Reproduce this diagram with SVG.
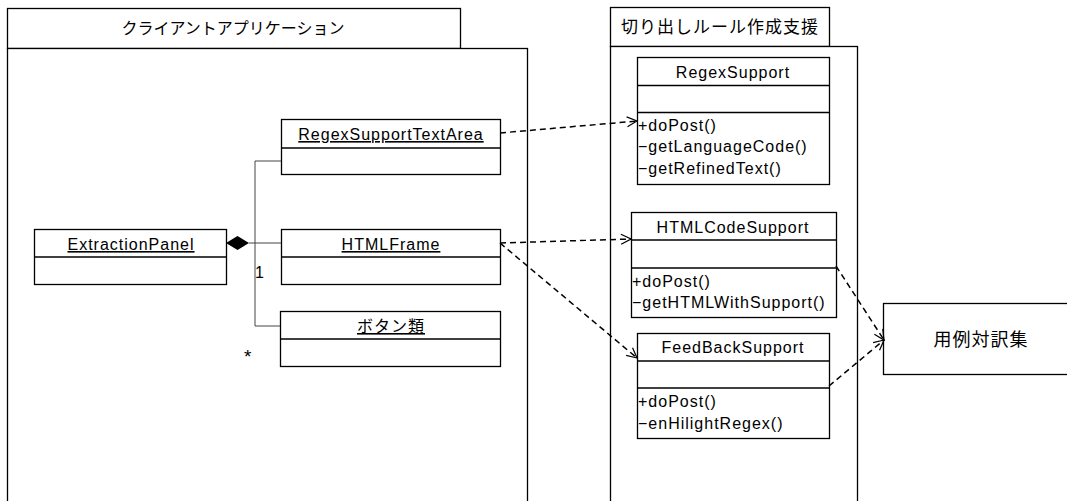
<svg xmlns="http://www.w3.org/2000/svg" width="1067" height="501" viewBox="0 0 1067 501">
<style>
.box{fill:#fff;stroke:#000;stroke-width:1.3}
.ln{stroke:#000;stroke-width:1.3}
.t{font-family:"Liberation Sans","Noto Sans CJK JP",sans-serif;font-size:16px;letter-spacing:1px;fill:#000}
.c{text-anchor:middle}
.u{text-decoration:underline}
.jp{font-family:"Noto Sans CJK JP","Liberation Sans",sans-serif;letter-spacing:0}
.dash{fill:none;stroke:#000;stroke-width:1.5;stroke-dasharray:6 4}
.conn{fill:none;stroke:#444;stroke-width:1}
</style>
<defs>
<marker id="open" viewBox="0 0 12 12" refX="11" refY="6" markerWidth="12" markerHeight="12" markerUnits="userSpaceOnUse" orient="auto">
<path d="M1,1 L11,6 L1,11" fill="none" stroke="#000" stroke-width="1.2"/>
</marker>
</defs>
<rect width="1067" height="501" fill="#fff"/>

<g id="pkg-client">
<rect class="box" x="7.5" y="8.5" width="453" height="40"/>
<rect class="box" x="7.5" y="48.5" width="520" height="470"/>
<text class="t jp c" x="233" y="34" style="font-size:16px">クライアントアプリケーション</text>
</g>

<g id="pkg-support">
<rect class="box" x="610.5" y="7.5" width="219" height="39"/>
<rect class="box" x="610.5" y="46.5" width="247" height="470"/>
<text class="t jp c" x="720" y="33" style="font-size:17px;letter-spacing:1px">切り出しルール作成支援</text>
</g>

<g id="ExtractionPanel">
<rect class="box" x="34.5" y="229.5" width="192" height="55"/>
<line class="ln" x1="34.5" y1="257" x2="226.5" y2="257"/>
<text class="t c u" x="131" y="250">ExtractionPanel</text>
</g>

<g id="RegexSupportTextArea">
<rect class="box" x="281.5" y="119.5" width="219" height="55"/>
<line class="ln" x1="281.5" y1="148" x2="500.5" y2="148"/>
<text class="t c u" x="391" y="140">RegexSupportTextArea</text>
</g>

<g id="HTMLFrame">
<rect class="box" x="281.5" y="229.5" width="219" height="55"/>
<line class="ln" x1="281.5" y1="257" x2="500.5" y2="257"/>
<text class="t c u" x="391" y="250">HTMLFrame</text>
</g>

<g id="Buttons">
<rect class="box" x="280.5" y="311.5" width="220" height="55"/>
<line class="ln" x1="280.5" y1="339" x2="500.5" y2="339"/>
<text class="t c u jp" x="391" y="332" style="letter-spacing:1px">ボタン類</text>
</g>

<g id="RegexSupport">
<rect class="box" x="637.5" y="57.5" width="192" height="127"/>
<line class="ln" x1="637.5" y1="85.5" x2="829.5" y2="85.5"/>
<line class="ln" x1="637.5" y1="112.5" x2="829.5" y2="112.5"/>
<text class="t c" x="733" y="78">RegexSupport</text>
<text class="t" x="638" y="131">+doPost()</text>
<text class="t" x="638" y="152">−getLanguageCode()</text>
<text class="t" x="638" y="174">−getRefinedText()</text>
</g>

<g id="HTMLCodeSupport">
<rect class="box" x="631.5" y="212.5" width="205" height="105"/>
<line class="ln" x1="631.5" y1="240" x2="836.5" y2="240"/>
<line class="ln" x1="631.5" y1="268" x2="836.5" y2="268"/>
<text class="t c" x="733" y="233">HTMLCodeSupport</text>
<text class="t" x="632" y="287">+doPost()</text>
<text class="t" x="632" y="308">−getHTMLWithSupport()</text>
</g>

<g id="FeedBackSupport">
<rect class="box" x="637.5" y="333.5" width="192" height="105"/>
<line class="ln" x1="637.5" y1="361" x2="829.5" y2="361"/>
<line class="ln" x1="637.5" y1="388" x2="829.5" y2="388"/>
<text class="t c" x="733" y="353">FeedBackSupport</text>
<text class="t" x="638" y="407">+doPost()</text>
<text class="t" x="638" y="429">−enHilightRegex()</text>
</g>

<g id="Corpus">
<rect class="box" x="883.5" y="303.5" width="200" height="71"/>
<text class="t jp c" x="981" y="346" style="font-size:18px;letter-spacing:1px">用例対訳集</text>
</g>

<g id="connectors">
<polygon points="226,243 237.5,236 249,243 237.5,250" fill="#000"/>
<line class="conn" x1="249" y1="243" x2="281" y2="243"/>
<polyline class="conn" points="281,161 255,161 255,326 280,326"/>
<text class="t" x="255" y="278" style="letter-spacing:0">1</text>
<text class="t" x="244" y="363" style="letter-spacing:0;font-size:19px">*</text>
<line class="dash" x1="500" y1="133" x2="637" y2="121" marker-end="url(#open)"/>
<line class="dash" x1="500" y1="243" x2="631" y2="239" marker-end="url(#open)"/>
<line class="dash" x1="500" y1="243" x2="637" y2="358" marker-end="url(#open)"/>
<line class="dash" x1="836" y1="266" x2="884" y2="340" marker-end="url(#open)"/>
<line class="dash" x1="829" y1="386" x2="884" y2="340" marker-end="url(#open)"/>
</g>
</svg>
